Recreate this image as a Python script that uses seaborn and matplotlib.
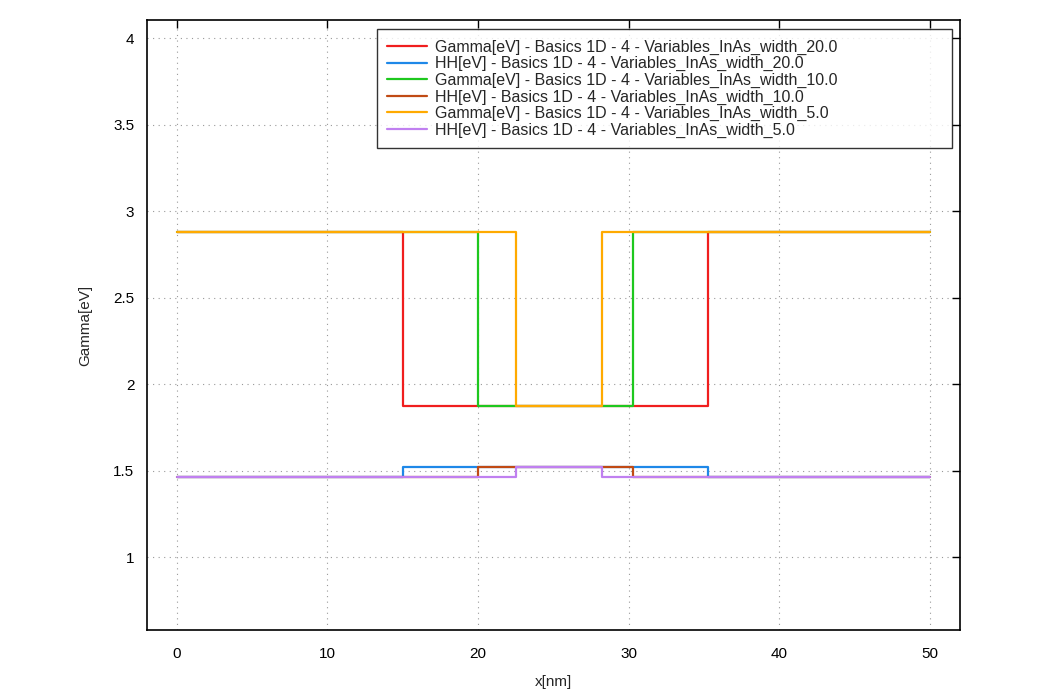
import seaborn as sns
import matplotlib.pyplot as plt
import pandas as pd

# band edges (eV)
gamma_barrier = 2.88
gamma_well = 1.875
hh_barrier = 1.465
hh_well = 1.52

# well start / end positions (nm) for each InAs width
widths = ["20.0", "10.0", "5.0"]
well_start = [15.0, 20.0, 22.5]
well_end = [35.3, 30.3, 28.25]
x_min, x_max = 0.0, 50.0

colors = {
    ("Gamma", "20.0"): "#f01e1e",
    ("HH", "20.0"): "#1e88e8",
    ("Gamma", "10.0"): "#1ec81e",
    ("HH", "10.0"): "#c04a14",
    ("Gamma", "5.0"): "#ffaa00",
    ("HH", "5.0"): "#c080f0",
}

sns.set_style("white")
plt.rcParams["font.family"] = ["Liberation Sans", "DejaVu Sans"]

fig = plt.figure(figsize=(10.56, 6.94), dpi=100)
ax = fig.add_axes([0.139, 0.092, 0.770, 0.879])

for w, a, b in zip(widths, well_start, well_end):
    xs = [x_min, a, b, x_max]
    for band, top, bot in [("Gamma", gamma_barrier, gamma_well), ("HH", hh_barrier, hh_well)]:
        df = pd.DataFrame({"x": xs, "y": [top, bot, top, top]})
        sns.lineplot(data=df, x="x", y="y", ax=ax, estimator=None, sort=False,
                     drawstyle="steps-post", color=colors[(band, w)], linewidth=1.6,
                     label=f"{band}[eV] - Basics 1D - 4 - Variables_InAs_width_{w}")

ax.set_xlim(-2, 52)
ax.set_ylim(0.578, 4.104)
ax.set_xticks([0, 10, 20, 30, 40, 50])
ax.set_yticks([1, 1.5, 2, 2.5, 3, 3.5, 4])
ax.set_yticklabels(["1", "1.5", "2", "2.5", "3", "3.5", "4"])
ax.grid(True, linestyle=(0, (1, 4)), color="#999999", linewidth=0.8)
ax.tick_params(direction="in", length=6, width=1, top=True, right=True,
               labelsize=11, colors="black")
ax.tick_params(axis="x", pad=12)
ax.tick_params(axis="y", pad=9)
for s in ax.spines.values():
    s.set_color("black")
    s.set_linewidth(1.2)
ax.set_xlabel("x[nm]", fontsize=11, labelpad=10)
ax.set_ylabel("Gamma[eV]", fontsize=11, labelpad=15)

leg = ax.legend(loc="upper left", bbox_to_anchor=(0.283, 0.790, 0.707, 0.195),
                mode="expand", borderaxespad=0, fontsize=11.5, frameon=True,
                fancybox=False, handlelength=2.5, labelspacing=0.09,
                borderpad=0.65, handletextpad=0.5)
leg.get_frame().set_edgecolor("black")
leg.get_frame().set_linewidth(1.0)

fig.savefig("out.png", dpi=100)
